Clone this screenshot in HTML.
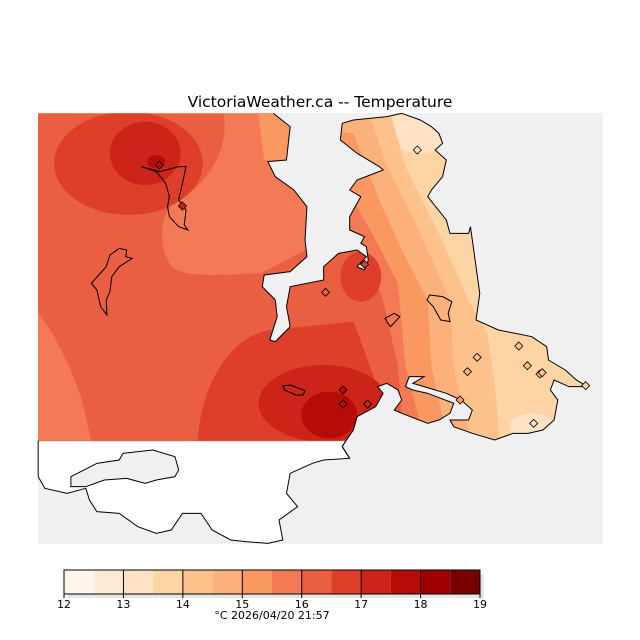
<!DOCTYPE html>
<html><head><meta charset="utf-8"><style>
body{margin:0;background:#fff;width:640px;height:640px;overflow:hidden}
svg{display:block}
text{font-family:"DejaVu Sans","Liberation Sans",sans-serif}
</style></head><body>
<svg id="chart" width="640" height="640" viewBox="0 0 640 640" xmlns="http://www.w3.org/2000/svg">
<text x="320" y="107" text-anchor="middle" font-size="15.5" fill="#000">VictoriaWeather.ca -- Temperature</text>
<defs>
<clipPath id="landclip"><path id="landpath" transform="translate(30,100) scale(0.3717,0.33333)" d="M22,40 L655,40 L700,80 L690,180 L640,185 L660,230 L710,270 L745,320 L740,420 L745,470 L700,515 L630,525 L625,560 L660,600 L665,650 L645,720 L660,725 L700,680 L690,620 L700,560 L790,540 L790,500 L830,460 L880,450 L905,470 L880,500 L900,510 L910,480 L905,440 L890,430 L900,410 L860,390 L860,350 L890,290 L860,270 L880,240 L950,210 L940,200 L880,160 L835,120 L840,70 L870,60 L960,50 L1000,40 L1050,60 L1080,80 L1100,100 L1110,130 L1090,150 L1120,180 L1110,230 L1080,270 L1070,290 L1120,360 L1130,400 L1180,400 L1185,380 L1190,420 L1200,500 L1210,580 L1200,660 L1260,690 L1350,710 L1390,740 L1395,780 L1440,810 L1470,840 L1500,860 L1450,860 L1410,840 L1400,870 L1420,900 L1410,960 L1380,990 L1340,1000 L1300,1000 L1250,1020 L1190,1000 L1140,980 L1130,960 L1180,960 L1190,930 L1160,900 L1120,880 L1060,860 L1030,850 L1060,830 L1020,830 L1010,860 L1030,870 L1070,880 L1140,910 L1130,940 L1100,960 L1070,970 L1000,940 L980,930 L1000,900 L990,870 L960,850 L935,860 L950,880 L930,920 L880,950 L870,990 L850,1022 L22,1022 Z"/></clipPath>
</defs>
<rect x="38" y="113" width="565" height="431" fill="#f0f0f0"/>
<g transform="translate(30,100) scale(0.3717,0.33333)">
<path d="M22,1022 L850,1022 L840,1040 L860,1075 L790,1080 L760,1090 L700,1120 L690,1180 L720,1220 L670,1260 L680,1320 L640,1330 L580,1325 L540,1320 L490,1290 L460,1240 L410,1240 L380,1290 L340,1300 L290,1280 L240,1240 L180,1235 L160,1200 L150,1165 L100,1180 L40,1165 L22,1130 Z" fill="#fff" stroke="#000" vector-effect="non-scaling-stroke"/>
<path d="M110,1130 L180,1090 L240,1080 L250,1060 L330,1050 L390,1070 L400,1110 L390,1130 L340,1140 L310,1150 L260,1135 L200,1140 L150,1160 L110,1160 Z" fill="#f0f0f0" stroke="#000" vector-effect="non-scaling-stroke"/>
</g>
<g id="field" clip-path="url(#landclip)">
<g transform="translate(30,100) scale(0.3717,0.33333)">
<rect x="0" y="0" width="1600" height="1100" fill="#fdd5a5"/>
<ellipse cx="1050" cy="90" rx="90" ry="70" fill="#fde3c4"/>
<ellipse cx="1350" cy="980" rx="60" ry="40" fill="#fde3c4"/>
<path d="M0,0 L960,0 L1010,200 L1100,400 L1180,600 L1230,700 L1250,850 L1270,1100 L0,1100 Z" fill="#fdc28c"/>
<path d="M0,0 L900,0 L960,200 L1050,400 L1130,600 L1140,800 L1200,1100 L0,1100 Z" fill="#fcb07a"/>
<path d="M0,0 L870,100 L940,300 L1000,450 L1070,600 L1080,800 L1140,1100 L0,1100 Z" fill="#fa9862"/>
<path d="M0,0 L870,300 L930,420 L990,550 L1010,800 L1080,1100 L0,1100 Z" fill="#f47a56"/>
<path d="M0,0 L800,0 L860,380 L900,450 L950,600 L990,800 L1010,1100 L0,1100 Z" fill="#ea5e42"/>
<ellipse cx="890" cy="530" rx="55" ry="75" fill="#dd3f2b"/>
<path d="M520,40 C540,150 470,260 400,300 C350,330 340,430 380,500 C420,540 560,520 620,520 L760,440 L760,0 L520,0 Z" fill="#f47a56"/>
<path d="M610,0 L630,180 L720,180 L720,0 Z" fill="#fa9862"/>
<path d="M0,610 C60,680 110,800 140,900 L180,1100 L0,1100 Z" fill="#f47a56"/>
<ellipse cx="265" cy="190" rx="200" ry="155" fill="#dd3f2b"/>
<ellipse cx="310" cy="160" rx="95" ry="95" fill="#cc2419"/>
<ellipse cx="340" cy="185" rx="24" ry="20" fill="#b50c08"/>
<path d="M450,1100 C440,850 550,700 650,690 L870,665 C900,750 930,850 960,940 L960,1100 Z" fill="#dd3f2b"/>
<ellipse cx="790" cy="910" rx="175" ry="115" fill="#cc2419"/>
<ellipse cx="805" cy="945" rx="75" ry="70" fill="#b50c08"/>
</g>
</g>
<g transform="translate(30,100) scale(0.3717,0.33333)" fill="none" stroke="#000">
<path vector-effect="non-scaling-stroke" d="M655,40 L700,80 L690,180 L640,185 L660,230 L710,270 L745,320 L740,420 L745,470 L700,515 L630,525 L625,560 L660,600 L665,650 L645,720 L660,725 L700,680 L690,620 L700,560 L790,540 L790,500 L830,460 L880,450 L905,470 L880,500 L900,510 L910,480 L905,440 L890,430 L900,410 L860,390 L860,350 L890,290 L860,270 L880,240 L950,210 L940,200 L880,160 L835,120 L840,70 L870,60 L960,50 L1000,40 L1050,60 L1080,80 L1100,100 L1110,130 L1090,150 L1120,180 L1110,230 L1080,270 L1070,290 L1120,360 L1130,400 L1180,400 L1185,380 L1190,420 L1200,500 L1210,580 L1200,660 L1260,690 L1350,710 L1390,740 L1395,780 L1440,810 L1470,840 L1500,860 L1450,860 L1410,840 L1400,870 L1420,900 L1410,960 L1380,990 L1340,1000 L1300,1000 L1250,1020 L1190,1000 L1140,980 L1130,960 L1180,960 L1190,930 L1160,900 L1120,880 L1060,860 L1030,850 L1060,830 L1020,830 L1010,860 L1030,870 L1070,880 L1140,910 L1130,940 L1100,960 L1070,970 L1000,940 L980,930 L1000,900 L990,870 L960,850 L935,860 L950,880 L930,920 L880,950 L870,990 L850,1022 L840,1040 L860,1075"/>
<path vector-effect="non-scaling-stroke" d="M300,200 L350,215 L400,200 L420,200 L410,250 L400,300 L420,330 L415,375 L425,390 L400,380 L375,350 L370,320 L375,290 L365,250 L340,215 Z"/>
<path vector-effect="non-scaling-stroke" d="M240,445 L260,450 L258,470 L275,475 L240,500 L220,530 L215,575 L205,600 L207,645 L190,620 L180,570 L165,550 L185,525 L205,500 L215,465 Z"/>
<path vector-effect="non-scaling-stroke" d="M1075,585 L1110,590 L1135,605 L1125,640 L1130,665 L1105,660 L1085,620 L1068,600 Z"/>
<path vector-effect="non-scaling-stroke" d="M980,640 L995,650 L970,680 L960,665 L955,655 Z"/>
<path vector-effect="non-scaling-stroke" d="M680,858 L700,855 L740,872 L735,885 L715,885 L685,870 Z"/>
</g>
<g id="stations"></g>
<g id="colorbar"></g>
<text x="272" y="619" text-anchor="middle" font-size="11" fill="#000">°C  2026/04/20 21:57</text>
</svg>
<script>
const levels = [12,12.5,13,13.5,14,14.5,15,15.5,16,16.5,17,17.5,18,18.5,19];
const levelColors = ["#fff5eb","#feebd5","#fde3c4","#fdd5a5","#fdc28c","#fcb07a","#fa9862","#f47a56","#ea5e42","#dd3f2b","#cc2419","#b50c08","#a00000","#7a0000"];
const tickLabels = ["12","13","14","15","16","17","18","19"];
const stationX = [348,410,900,795,1042,842,842,908,1315,1203,1177,1338,1372,1378,1157,1355,1495];
const stationY = [195,318,493,577,150,870,912,912,738,772,815,797,822,818,900,970,857];
const stationTemp = [17.6,17.0,16.6,16.2,13.2,17.5,17.8,17.2,14.0,14.3,14.5,14.0,14.2,14.1,15.0,13.4,13.5];
const NS='http://www.w3.org/2000/svg';
const cbX0=64, cbX1=480, cbY=570, cbH=24;
const vx = v => cbX0 + (v-12)/(19-12)*(cbX1-cbX0);
const mx = zx => 30 + zx*0.3717, my = zy => 100 + zy/3;
function colorFor(t){for(let i=0;i<levels.length-1;i++){if(t<levels[i+1])return levelColors[i];}return levelColors[levelColors.length-1];}
const cb=document.getElementById('colorbar');
const sh=document.createElementNS(NS,'rect');


sh.setAttribute('x',cbX0+4);sh.setAttribute('y',cbY+4);sh.setAttribute('width',cbX1-cbX0);sh.setAttribute('height',cbH);sh.setAttribute('fill','#e6e6e6');
cb.appendChild(sh);
for(let i=0;i<levelColors.length;i++){
  const r=document.createElementNS(NS,'rect');
  
  
  r.setAttribute('x',vx(levels[i]));r.setAttribute('y',cbY);r.setAttribute('width',vx(levels[i+1])-vx(levels[i]));r.setAttribute('height',cbH);r.setAttribute('fill',levelColors[i]);
  cb.appendChild(r);
}
const fr=document.createElementNS(NS,'rect');


fr.setAttribute('x',cbX0);fr.setAttribute('y',cbY);fr.setAttribute('width',cbX1-cbX0);fr.setAttribute('height',cbH);fr.setAttribute('fill','none');fr.setAttribute('stroke','#000');
cb.appendChild(fr);
tickLabels.forEach(lb=>{
  const x=vx(parseFloat(lb));
  const l=document.createElementNS(NS,'line');
  
  
  l.setAttribute('x1',x);l.setAttribute('x2',x);l.setAttribute('y1',cbY);l.setAttribute('y2',cbY+cbH+4);l.setAttribute('stroke','#000');
  cb.appendChild(l);
  const t=document.createElementNS(NS,'text');
  
  
  t.setAttribute('x',x);t.setAttribute('y',cbY+cbH+14);t.setAttribute('text-anchor','middle');t.setAttribute('font-size','11');
  t.textContent=lb;cb.appendChild(t);
});
const st=document.getElementById('stations');
stationX.forEach((zx,i)=>{
  const x=mx(zx), y=my(stationY[i]), s=4;
  const p=document.createElementNS(NS,'path');
  
  
  p.setAttribute('d',`M${x},${y-s} L${x+s},${y} L${x},${y+s} L${x-s},${y} Z`);
  p.setAttribute('fill',colorFor(stationTemp[i]));p.setAttribute('stroke','#000');p.setAttribute('stroke-width','0.8');
  st.appendChild(p);
});
</script>
</body></html>
